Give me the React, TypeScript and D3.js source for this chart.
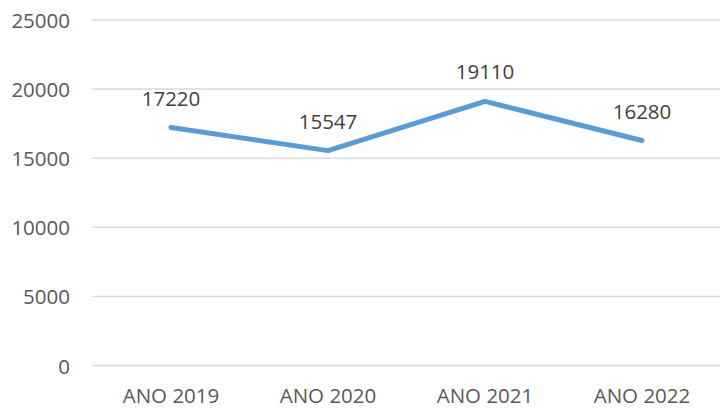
import React from "react";
import * as d3 from "d3";

const categories = ["ANO 2019", "ANO 2020", "ANO 2021", "ANO 2022"];
const values = [17220, 15547, 19110, 16280];
const yTicks = [0, 5000, 10000, 15000, 20000, 25000];

const W = 720;
const H = 408;
const margin = { left: 92.5, right: -0.5, top: 20, bottom: 42.5 };
const FONT = "'Open Sans', sans-serif";
const TEXT = "#595959";

export default function App() {
  const x = d3
    .scaleBand<string>()
    .domain(categories)
    .range([margin.left, W - margin.right])
    .paddingInner(0)
    .paddingOuter(0);
  const y = d3.scaleLinear().domain([0, 25000]).range([H - margin.bottom, margin.top]);
  const cx = (c: string) => (x(c) as number) + x.bandwidth() / 2;
  const line = d3
    .line<number>()
    .x((_, i) => cx(categories[i]))
    .y((d) => y(d));

  return (
    <svg
      width={W}
      height={H}
      style={{ position: "absolute", left: 0, top: 0, background: "#fff" }}
    >
      {yTicks.map((t) => (
        <g key={t}>
          <line
            x1={margin.left}
            x2={W}
            y1={y(t)}
            y2={y(t)}
            stroke="#d9d9d9"
            strokeWidth={1.5}
          />
          <text
            x={70}
            y={y(t)}
            textAnchor="end"
            dominantBaseline="central"
            fontFamily={FONT}
            fontSize={20.5}
            fill={TEXT}
          >
            {t}
          </text>
        </g>
      ))}
      {categories.map((c) => (
        <text
          key={c}
          x={cx(c)}
          y={403}
          textAnchor="middle"
          fontFamily={FONT}
          fontSize={20.5}
          fill={TEXT}
        >
          {c}
        </text>
      ))}
      <path
        d={line(values) || ""}
        fill="none"
        stroke="#5b9bd5"
        strokeWidth={5}
        strokeLinecap="round"
        strokeLinejoin="round"
      />
      {values.map((v, i) => (
        <text
          key={i}
          x={cx(categories[i])}
          y={y(v) - 30}
          textAnchor="middle"
          dominantBaseline="central"
          fontFamily={FONT}
          fontSize={20.5}
          fill="#404040"
        >
          {v}
        </text>
      ))}
    </svg>
  );
}
